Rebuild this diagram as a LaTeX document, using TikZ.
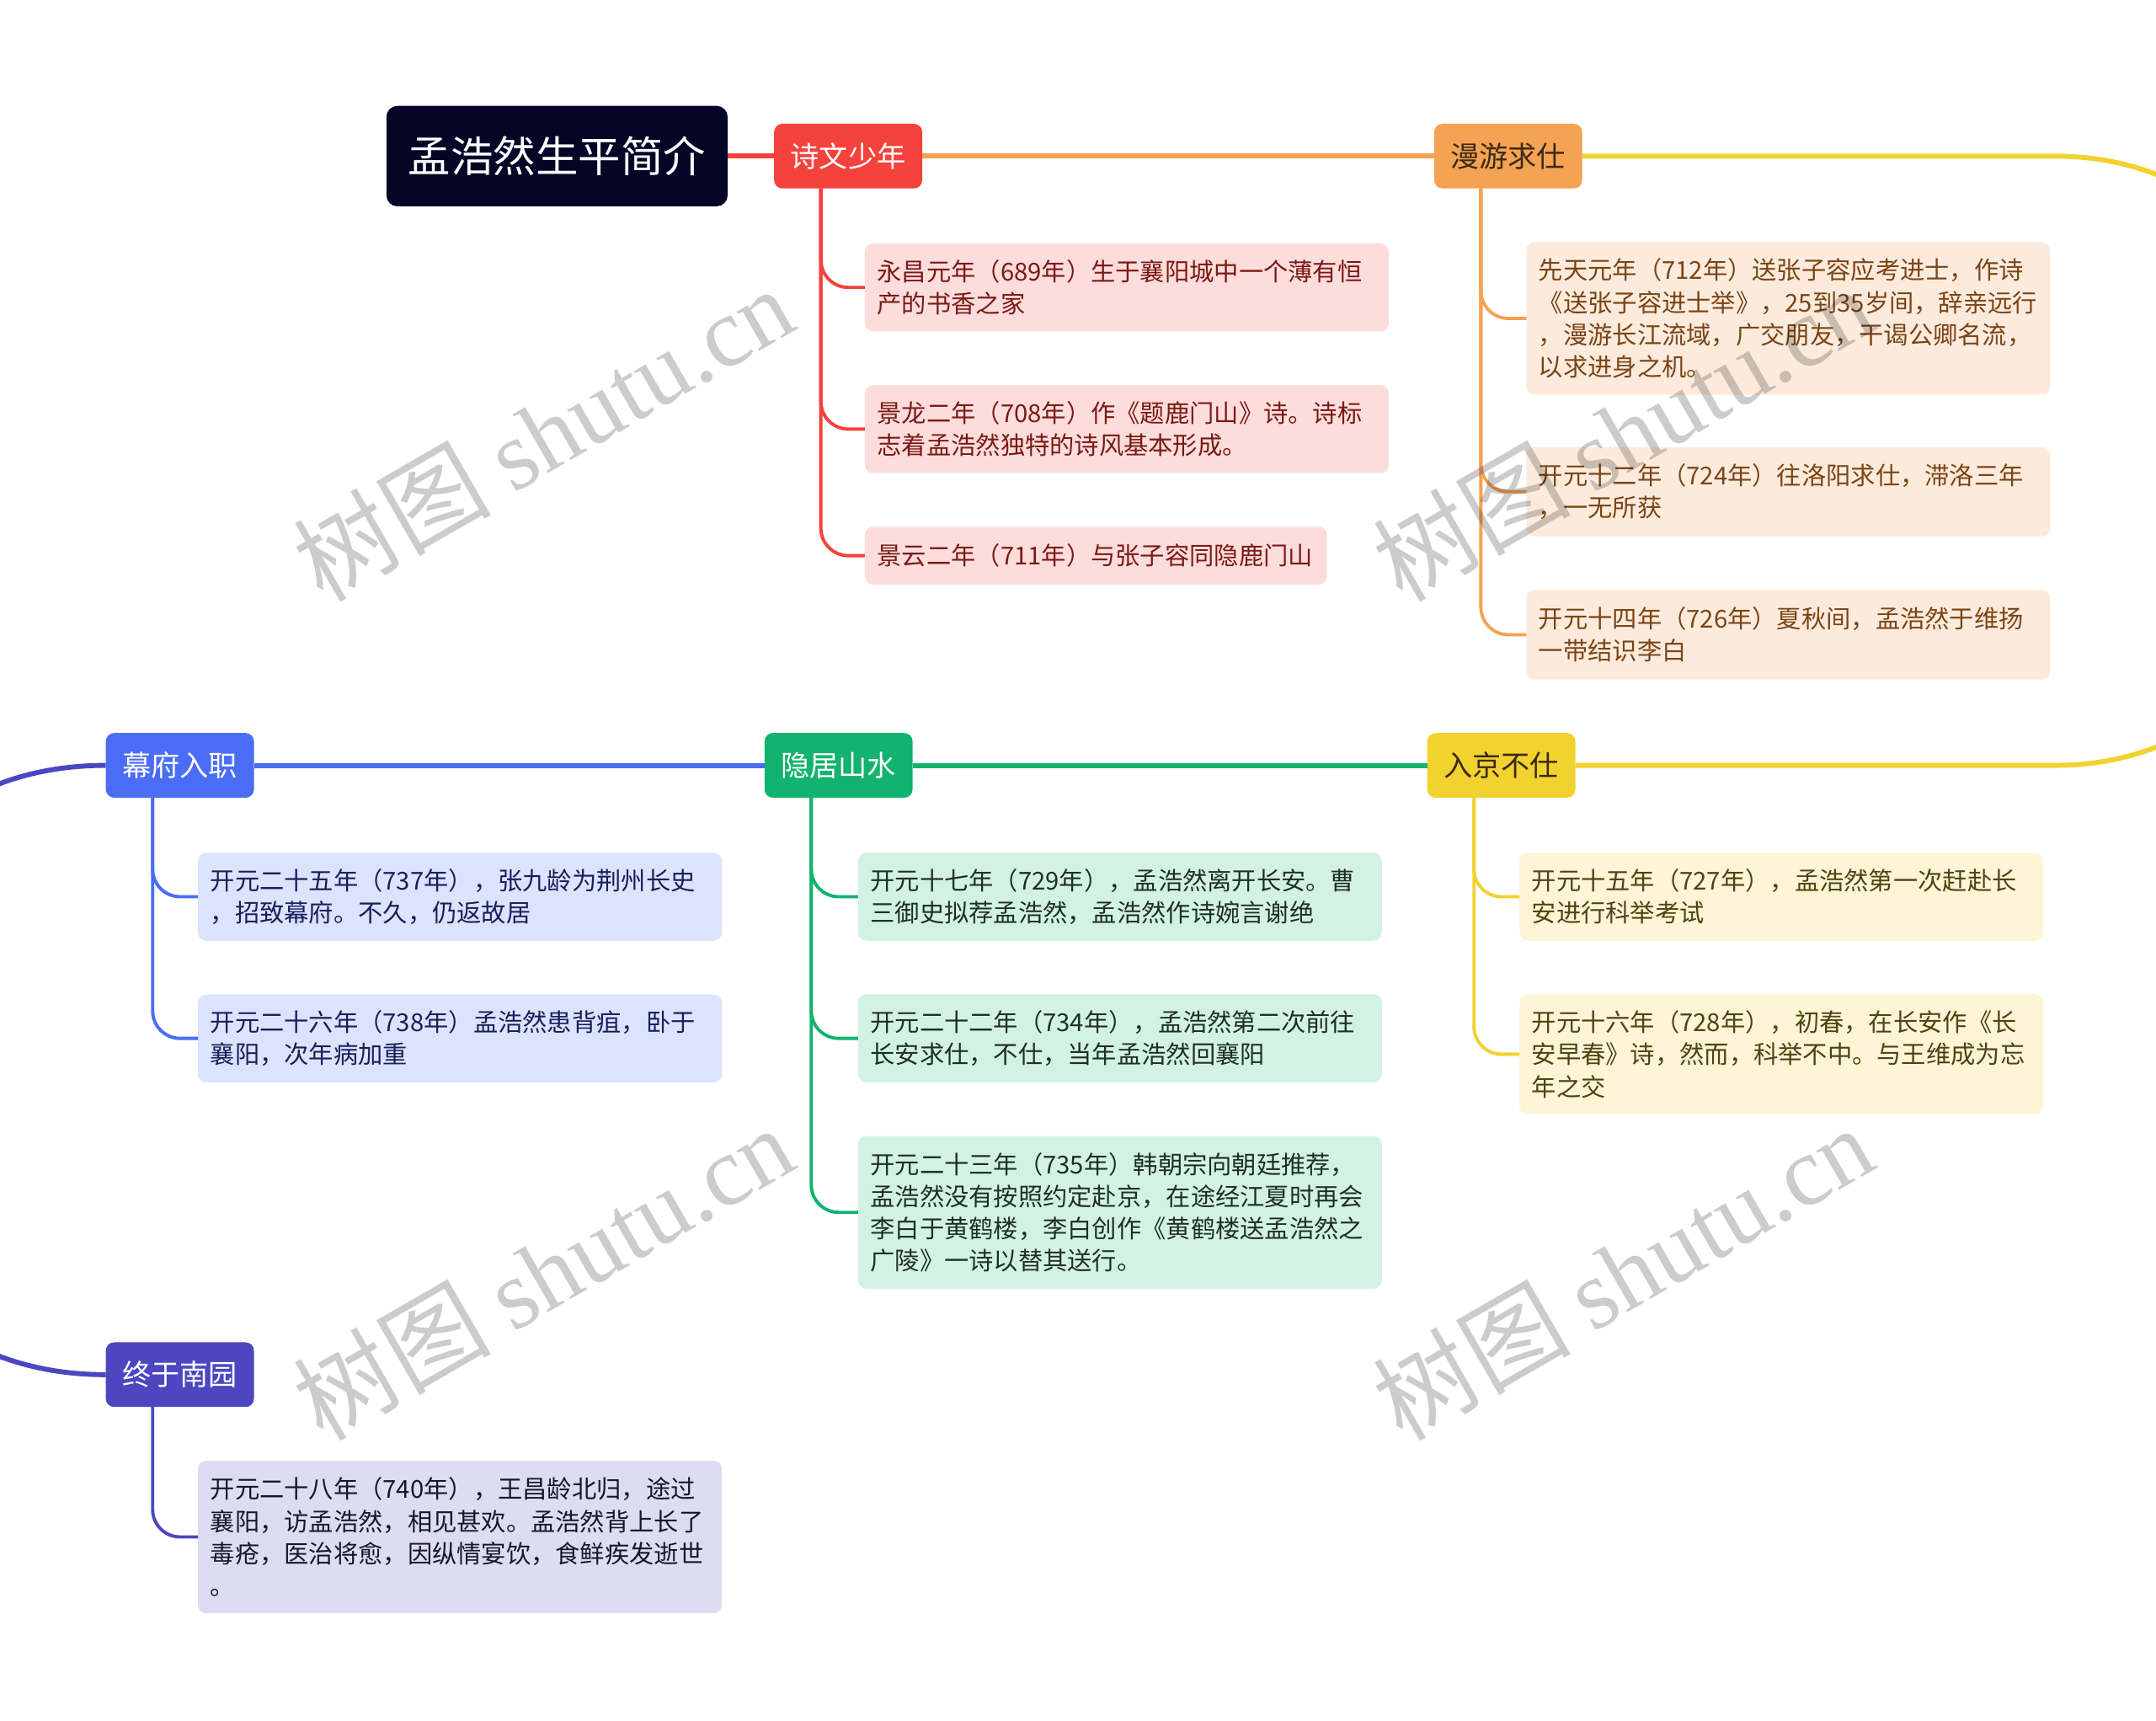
\documentclass[tikz,border=0pt]{standalone}
\usepackage{fontspec}
\setmainfont{Noto Sans CJK SC}
\newfontfamily\latinmark{Liberation Serif}
\definecolor{night}{HTML}{050527}
\definecolor{poemred}{HTML}{F5423C}
\definecolor{roamorange}{HTML}{F4A253}
\definecolor{capyellow}{HTML}{F1D22E}
\definecolor{hermitgreen}{HTML}{12B36E}
\definecolor{officeblue}{HTML}{4B6DF5}
\definecolor{gardenpurple}{HTML}{4C47C0}
\definecolor{redleaf}{HTML}{FDDCDC}
\definecolor{orangeleaf}{HTML}{FCEBDC}
\definecolor{yellowleaf}{HTML}{FCF5D6}
\definecolor{greenleaf}{HTML}{D2F3E4}
\definecolor{blueleaf}{HTML}{DCE3FC}
\definecolor{purpleleaf}{HTML}{DEDCF3}
\definecolor{redink}{HTML}{7A1A14}
\definecolor{orangeink}{HTML}{7B4416}
\definecolor{yellowink}{HTML}{4F4312}
\definecolor{greenink}{HTML}{1F2F27}
\definecolor{blueink}{HTML}{17205A}
\definecolor{purpleink}{HTML}{18152F}
\definecolor{topicink}{HTML}{3A2A14}
\newcommand{\leaffont}{\fontsize{18}{23.5}\selectfont}
\newcommand{\topicfont}{\fontsize{21}{24}\selectfont}
\newcommand{\rootfont}{\fontsize{31}{34}\selectfont}
\newcommand{\stampfont}{\fontsize{72}{72}\selectfont}
\tikzset{
  every node/.style={inner sep=0pt,outer sep=0pt},
  topic/.style={rounded corners=6bp,inner xsep=12bp,minimum height=47bp,font=\topicfont,anchor=west},
  leaf/.style={rounded corners=6bp,anchor=north west,text width=363bp,inner xsep=9bp,align=left,font=\leaffont},
  trunk/.style={line width=3.6bp},
  twig/.style={line width=2.4bp,rounded corners=20bp},
  stamp/.style={rotate=30,text=black,text opacity=.2,font=\stampfont}
}
\begin{document}
\begin{tikzpicture}[x=1bp,y=-1bp]

\path[use as bounding box] (0,0) rectangle (1568,1251);
% chain of periods: along the top, round the right edge, back along the middle, round the left edge
\node[topic,fill=night,text=white,font=\rootfont,inner xsep=16bp,minimum height=73bp,rounded corners=8bp] (root) at (281,113.5) {孟浩然生平简介};
\node[topic,fill=poemred,text=white] (poem) at (563,113.5) {诗文少年};
\node[topic,fill=roamorange,text=topicink] (roam) at (1043,113.5) {漫游求仕};
\node[topic,fill=capyellow,text=topicink] (capital) at (1038,556.5) {入京不仕};
\node[topic,fill=hermitgreen,text=white] (hermit) at (556,556.5) {隐居山水};
\node[topic,fill=officeblue,text=white] (office) at (77,556.5) {幕府入职};
\node[topic,fill=gardenpurple,text=white] (garden) at (77,999.5) {终于南园};
\coordinate (turnN) at (1494,113.5);
\coordinate (turnS) at (1494,556.5);

\draw[trunk,poemred] (root) -- (poem);
\draw[trunk,roamorange] (poem) -- (roam);
\draw[trunk,capyellow] (roam) -- (turnN) .. controls +(266,0) and +(266,0) .. (turnS) -- (capital);
\draw[trunk,hermitgreen] (capital) -- (hermit);
\draw[trunk,officeblue] (hermit) -- (office);
\draw[trunk,gardenpurple] (office.west) .. controls +(-277,0) and +(-277,0) .. (garden.west);

\node[leaf,fill=redleaf,text=redink,minimum height=64bp] (r1) at (629,177) {永昌元年（689年）生于襄阳城中一个薄有恒\\产的书香之家};
\node[leaf,fill=redleaf,text=redink,minimum height=64bp] (r2) at (629,280) {景龙二年（708年）作《题鹿门山》诗。诗标\\志着孟浩然独特的诗风基本形成。};
\node[leaf,fill=redleaf,text=redink,minimum height=42bp,text width=318bp] (r3) at (629,383) {景云二年（711年）与张子容同隐鹿门山};

\node[leaf,fill=orangeleaf,text=orangeink,minimum height=111bp] (o1) at (1110,176) {先天元年（712年）送张子容应考进士，作诗\\《送张子容进士举》，25到35岁间，辞亲远行\\，漫游长江流域，广交朋友，干谒公卿名流，\\以求进身之机。};
\node[leaf,fill=orangeleaf,text=orangeink,minimum height=65bp] (o2) at (1110,325) {开元十二年（724年）往洛阳求仕，滞洛三年\\，一无所获};
\node[leaf,fill=orangeleaf,text=orangeink,minimum height=65bp] (o3) at (1110,429) {开元十四年（726年）夏秋间，孟浩然于维扬\\一带结识李白};

\node[leaf,fill=yellowleaf,text=yellowink,minimum height=64bp] (y1) at (1105,620) {开元十五年（727年），孟浩然第一次赶赴长\\安进行科举考试};
\node[leaf,fill=yellowleaf,text=yellowink,minimum height=87bp] (y2) at (1105,723) {开元十六年（728年），初春，在长安作《长\\安早春》诗，然而，科举不中。与王维成为忘\\年之交};

\node[leaf,fill=greenleaf,text=greenink,minimum height=64bp] (g1) at (624,620) {开元十七年（729年），孟浩然离开长安。曹\\三御史拟荐孟浩然，孟浩然作诗婉言谢绝};
\node[leaf,fill=greenleaf,text=greenink,minimum height=64bp] (g2) at (624,723) {开元二十二年（734年），孟浩然第二次前往\\长安求仕，不仕，当年孟浩然回襄阳};
\node[leaf,fill=greenleaf,text=greenink,minimum height=111bp] (g3) at (624,826) {开元二十三年（735年）韩朝宗向朝廷推荐，\\孟浩然没有按照约定赴京，在途经江夏时再会\\李白于黄鹤楼，李白创作《黄鹤楼送孟浩然之\\广陵》一诗以替其送行。};

\node[leaf,fill=blueleaf,text=blueink,minimum height=64bp] (b1) at (144,620) {开元二十五年（737年），张九龄为荆州长史\\，招致幕府。不久，仍返故居};
\node[leaf,fill=blueleaf,text=blueink,minimum height=64bp] (b2) at (144,723) {开元二十六年（738年）孟浩然患背疽，卧于\\襄阳，次年病加重};

\node[leaf,fill=purpleleaf,text=purpleink,minimum height=111bp] (p1) at (144,1062) {开元二十八年（740年），王昌龄北归，途过\\襄阳，访孟浩然，相见甚欢。孟浩然背上长了\\毒疮，医治将愈，因纵情宴饮，食鲜疾发逝世\\。};

\foreach \leaf in {r1,r2,r3}
 \draw[twig,poemred] ([xshift=34bp]poem.south west) |- (\leaf.west);
\foreach \leaf in {o1,o2,o3}
 \draw[twig,roamorange] ([xshift=34bp]roam.south west) |- (\leaf.west);
\foreach \leaf in {y1,y2}
 \draw[twig,capyellow] ([xshift=34bp]capital.south west) |- (\leaf.west);
\foreach \leaf in {g1,g2,g3}
 \draw[twig,hermitgreen] ([xshift=34bp]hermit.south west) |- (\leaf.west);
\foreach \leaf in {b1,b2}
 \draw[twig,officeblue] ([xshift=34bp]office.south west) |- (\leaf.west);
\draw[twig,gardenpurple] ([xshift=34bp]garden.south west) |- (p1.west);

% site watermark on top
\foreach \x/\y [count=\i] in {395/315,1180/315,395/925,1180/925}
 \node[stamp] (stamp\i) at (\x,\y) {树图 {\latinmark shutu.cn}};
\end{tikzpicture}
\end{document}
